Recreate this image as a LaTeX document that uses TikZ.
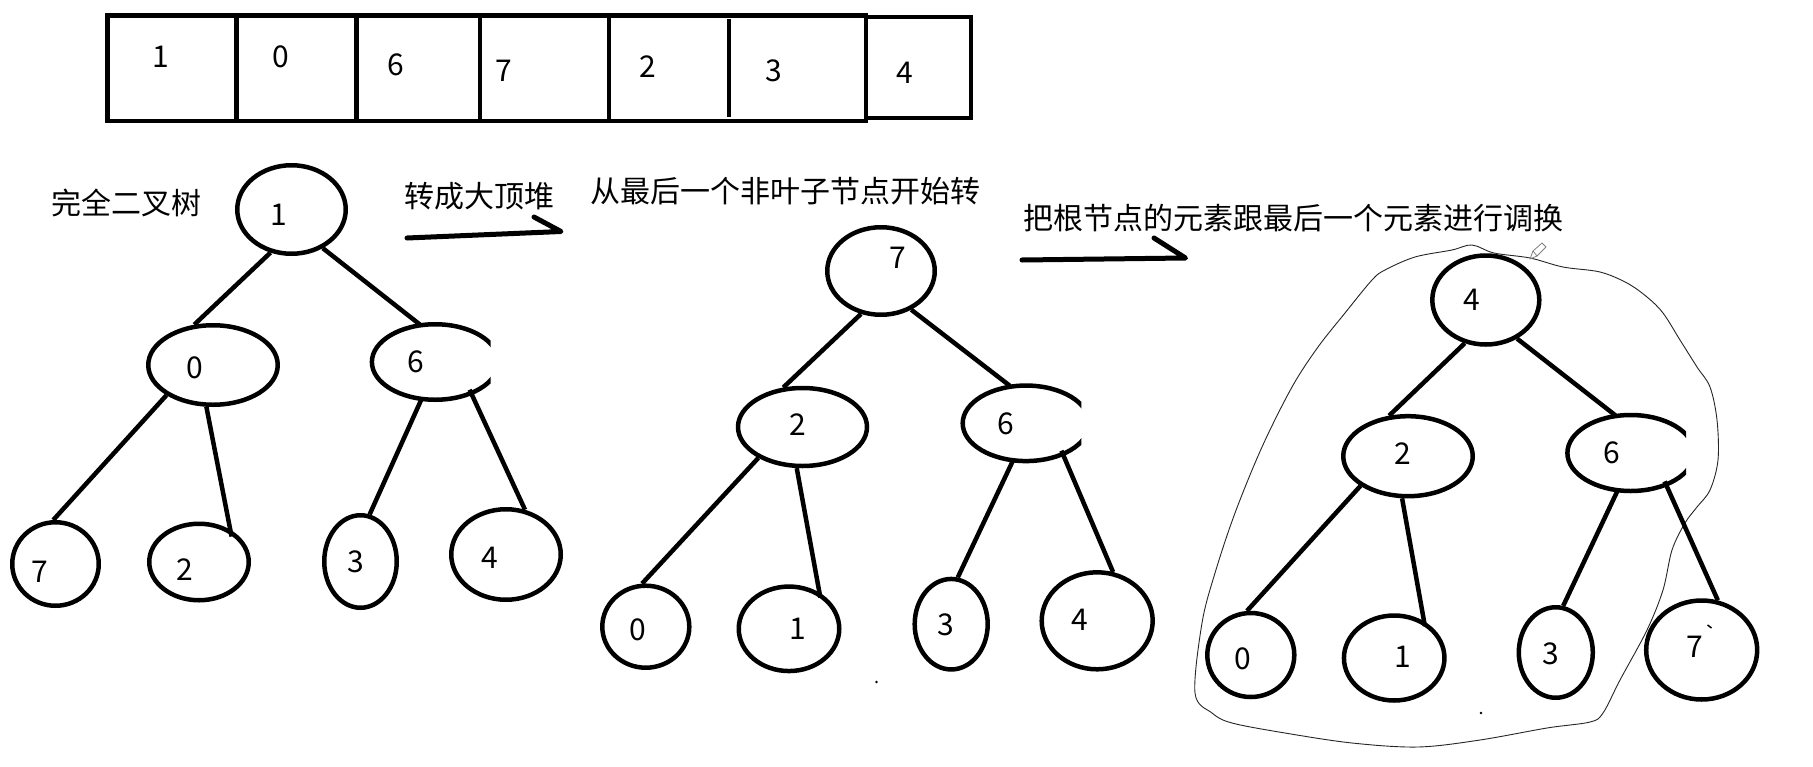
\documentclass[tikz,border=0pt]{standalone}
\usepackage{fontspec}
\newfontfamily\cjk{Noto Sans CJK SC}
\usetikzlibrary{shapes.geometric}
\begin{document}
\begin{tikzpicture}[x=1pt,y=-1pt,
  nd/.style={ellipse, draw, line width=4.5pt, inner sep=0pt},
  ndopen/.style={ellipse, draw=none, inner sep=0pt},
  num/.style={font=\cjk\fontsize{30}{36}\selectfont, inner sep=0pt},
  lbl/.style={font=\cjk\fontsize{30}{36}\selectfont, inner sep=0pt, anchor=west},
  lnk/.style={line width=4.5pt},
  arr/.style={line width=5pt, line cap=round, line join=round},
  cell/.style={line width=4.5pt},
  openarc/.style={line width=4.5pt}
]
\fill[white] (0,0) rectangle (1813,766);
\useasboundingbox (0,0) rectangle (1813,766);

% ---------- array ----------
\draw[cell] (107.5,15.5) rectangle (866,121);
\draw[cell] (236.5,15.5) -- (236.5,121);
\draw[cell] (356.5,15.5) -- (356.5,121);
\draw[cell] (480,15.5) -- (480,121);
\draw[cell] (609,15.5) -- (609,121);
\draw[cell] (729,19) -- (729,117);
\draw[cell] (866,17) rectangle (971,118);
\node[num] (v1) at (161,57) {1};
\node[num] (v2) at (281,57) {0};
\node[num] (v3) at (396,65) {6};
\node[num] (v4) at (504,71) {7};
\node[num] (v5) at (648,67) {2};
\node[num] (v6) at (774,71) {3};
\node[num] (v7) at (905,73) {4};

% ---------- labels ----------
\node[lbl] (l1) at (51.5,202.5) {完全二叉树};
\node[lbl] (l2) at (404,196) {转成大顶堆};
\node[lbl] (l3) at (590,191) {从最后一个非叶子节点开始转};
\node[lbl] (l4) at (1023,218) {把根节点的元素跟最后一个元素进行调换};

% ---------- arrows ----------
\coordinate (p1s) at (407,238);
\coordinate (p1e) at (561,231.5);
\coordinate (p1h) at (534,217);
\draw[arr] (p1s) -- (p1e) -- (p1h);
\coordinate (p2s) at (1022,260);
\coordinate (p2e) at (1185.5,258);
\coordinate (p2h) at (1154,238);
\draw[arr] (p2s) -- (p2e) -- (p2h);

% ---------- tree 1 ----------
\node[nd, minimum width=108.5, minimum height=88.5] (r1) at (291.5,209.5) {};
\node[nd, minimum width=129.5, minimum height=79.5] (a1) at (213,365) {};
\node[ndopen, minimum width=115.5, minimum height=75.5] (b1) at (430,362) {};
\begin{scope}
\clip ([xshift=-90pt,yshift=-60pt]b1.center) rectangle ([xshift=60.5pt,yshift=60pt]b1.center);
\draw[openarc] ([xshift=5.2pt]b1.center) ellipse[x radius=63.3, y radius=37.75];
\end{scope}
\node[nd, minimum width=86.5, minimum height=83.5] (c1) at (55.5,564) {};
\node[nd, minimum width=99.5, minimum height=76.5] (d1) at (199,562) {};
\node[nd, minimum width=72.5, minimum height=92.5] (e1) at (360.5,561.5) {};
\node[nd, minimum width=109.5, minimum height=90.5] (f1) at (506,554.5) {};
\node[num] (tr1) at (278.7,215) {1};
\node[num] (ta1) at (195,368) {0};
\node[num] (tb1) at (416,362) {6};
\node[num] (tc1) at (39.5,572) {7};
\node[num] (td1) at (185,570) {2};
\node[num] (te1) at (356,561.7) {3};
\node[num] (tf1) at (490,558) {4};
\draw[lnk] (r1.244) -- (a1.115);
\draw[lnk] (r1.309) -- (b1.105);
\draw[lnk] (a1.213) -- (c1.93);
\draw[lnk, shorten >=-7pt] (a1.261) -- (d1.46);
\draw[lnk] (b1.257) -- (e1.79);
\draw[lnk] (b1.325) -- (f1.67);

% ---------- tree 2 ----------
\node[nd, minimum width=107.5, minimum height=87.5] (r2) at (881,271) {};
\node[nd, minimum width=129, minimum height=78] (a2) at (802.5,427) {};
\node[ndopen, minimum width=117, minimum height=75.5] (b2) at (1020.8,423.3) {};
\begin{scope}
\clip ([xshift=-90pt,yshift=-60pt]b2.center) rectangle ([xshift=60.5pt,yshift=60pt]b2.center);
\draw[openarc] ([xshift=5.2pt]b2.center) ellipse[x radius=63.3, y radius=37.75];
\end{scope}
\node[nd, minimum width=87, minimum height=82] (c2) at (645.8,626.7) {};
\node[nd, minimum width=100.5, minimum height=84.5] (d2) at (789,628.8) {};
\node[nd, minimum width=73, minimum height=90.5] (e2) at (951.2,624.2) {};
\node[nd, minimum width=111, minimum height=97] (f2) at (1097.2,620.8) {};
\node[num] (tr2) at (898.3,258.3) {7};
\node[num] (ta2) at (798.3,425) {2};
\node[num] (tb2) at (1006,423.3) {6};
\node[num] (tc2) at (638.3,630) {0};
\node[num] (td2) at (798.3,628.3) {1};
\node[num] (te2) at (945.7,625) {3};
\node[num] (tf2) at (1080,620) {4};
\draw[lnk] (r2.245) -- (a2.116);
\draw[lnk] (r2.308) -- (b2.106);
\draw[lnk] (a2.215) -- (c2.95);
\draw[lnk, shorten >=-5pt] (a2.262) -- (d2.50);
\draw[lnk] (b2.258) -- (e2.82);
\draw[lnk] (b2.326) -- (f2.72);
\fill (876.5,682) circle[radius=1.3];

% ---------- tree 3 ----------
\draw[line width=0.9pt, black!85] plot[smooth cycle, tension=0.55] coordinates {
 (1472,245) (1494,253) (1530,258) (1563,267) (1600,272) (1627,283) (1647,297)
 (1663,313) (1680,340) (1697,367) (1710,387) (1717,420) (1718,460) (1710,490)
 (1697,507) (1685,523) (1672,550) (1663,590) (1647,630) (1620,680) (1603,713)
 (1590,722) (1547,728) (1480,740) (1418,747) (1352,743) (1285,733) (1232,723)
 (1212,713) (1195,693) (1202,623) (1215,573) (1235,513) (1262,447) (1292,387)
 (1318,347) (1345,313) (1372,280) (1385,270) (1415,257) (1452,250)};
\node[nd, minimum width=107, minimum height=89] (r3) at (1485.8,300) {};
\node[nd, minimum width=129.5, minimum height=80] (a3) at (1408,456.2) {};
\node[ndopen, minimum width=116.5, minimum height=76] (b3) at (1625.5,453) {};
\begin{scope}
\clip ([xshift=-90pt,yshift=-60pt]b3.center) rectangle ([xshift=60.5pt,yshift=60pt]b3.center);
\draw[openarc] ([xshift=5.2pt]b3.center) ellipse[x radius=63.3, y radius=38];
\end{scope}
\node[nd, minimum width=87, minimum height=84] (c3) at (1250.8,655) {};
\node[nd, minimum width=100.5, minimum height=85] (d3) at (1394.2,658) {};
\node[nd, minimum width=74, minimum height=90.5] (e3) at (1555.8,652.5) {};
\node[nd, minimum width=111, minimum height=99] (f3) at (1701.7,650) {};
\node[num] (tr3) at (1472.3,300) {4};
\node[num] (ta3) at (1403.3,453.3) {2};
\node[num] (tb3) at (1611.7,452.7) {6};
\node[num] (tc3) at (1243.3,658.3) {0};
\node[num] (td3) at (1403.3,656.7) {1};
\node[num] (te3) at (1550.7,653.3) {3};
\node[num] (tf3) at (1695,646.7) {7};
\draw[lnk] (r3.244) -- (a3.115);
\draw[lnk] (r3.309) -- (b3.105);
\draw[lnk] (a3.212) -- (c3.95);
\draw[lnk, shorten >=-5pt] (a3.262) -- (d3.51);
\draw[lnk] (b3.258) -- (e3.81);
\draw[lnk] (b3.324) -- (f3.72);
\draw[line width=1.5pt] (1707.5,625) -- (1711.5,628);
\fill (1481,713) circle[radius=1.3];
% pencil cursor
\draw[gray, line width=0.8pt, line join=round] (1530,259) -- (1533,251) -- (1542,243) -- (1546,247) -- (1537,256) -- cycle;
\draw[gray, line width=0.8pt] (1533,251) -- (1537,256);
\end{tikzpicture}
\end{document}
